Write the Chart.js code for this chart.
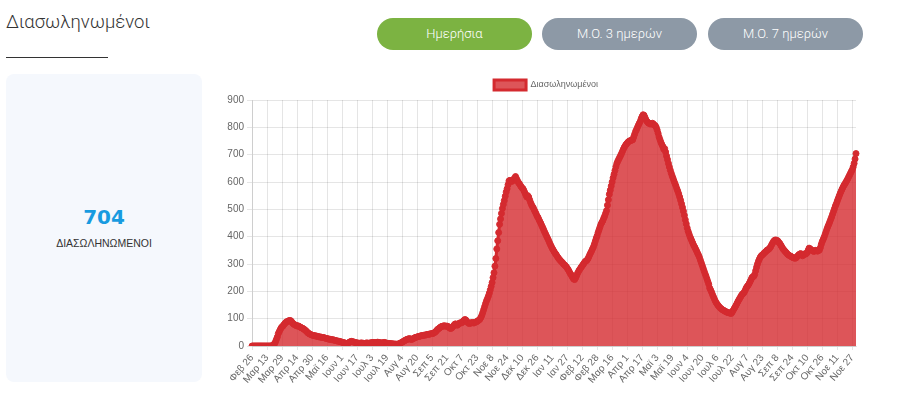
<!DOCTYPE html>
<html lang="el">
<head>
    <meta charset="UTF-8">
    <title>Διασωληνωμένοι</title>
    <script src="https://cdn.jsdelivr.net/npm/chart.js"></script>
    <style>
        body {
            margin: 0;
            width: 900px;
            height: 402px;
            position: relative;
            overflow: hidden;
            background: #fff;
            font-family: Roboto, Arial, sans-serif;
        }
        #title {
            position: absolute;
            left: 6px;
            top: 11px;
            font-size: 18.5px;
            font-weight: 300;
            color: #333;
        }
        #underline {
            position: absolute;
            left: 6px;
            top: 57px;
            width: 102px;
            height: 1px;
            background: #333;
        }
        .btn {
            position: absolute;
            top: 18px;
            width: 155px;
            height: 32px;
            line-height: 32px;
            border-radius: 16px;
            color: #fff;
            font-size: 13px;
            font-weight: 300;
            text-align: center;
            background: #8d99a6;
        }
        .btn.active { background: #7cb342; }
        #card {
            position: absolute;
            left: 6px;
            top: 74px;
            width: 196px;
            height: 308px;
            border-radius: 8px;
            background: #f5f8fd;
            text-align: center;
        }
        #card .num {
            position: absolute;
            left: 0; right: 0;
            top: 131px;
            font-family: "DejaVu Sans", sans-serif;
            font-weight: bold;
            font-size: 20px;
            color: #189be0;
        }
        #card .lbl {
            position: absolute;
            left: 0; right: 0;
            top: 163px;
            font-family: "Liberation Sans", Arial, sans-serif;
            font-size: 10.5px;
            color: #333;
        }
        #chart-box {
            position: absolute;
            left: 212px;
            top: 72px;
            width: 668px;
            height: 328px;
        }
    </style>
</head>
<body>
    <div id="title">Διασωληνωμένοι</div>
    <div id="underline"></div>
    <div class="btn active" style="left:377px">Ημερήσια</div>
    <div class="btn" style="left:542px">Μ.Ο. 3 ημερών</div>
    <div class="btn" style="left:708px">Μ.Ο. 7 ημερών</div>
    <div id="card">
        <div class="num">704</div>
        <div class="lbl">ΔΙΑΣΩΛΗΝΩΜΕΝΟΙ</div>
    </div>
    <div id="chart-box">
        <canvas id="intubChart"></canvas>
    </div>

    <script>
        // daily values from 26 Feb 2020, one row = 16 days (one x tick)
        const intubated = [
            0, 0, 0, 0, 0, 0, 0, 0, 0, 0, 0, 0, 0, 0, 0, 0,
            0, 0, 0, 0, 0, 0, 2, 5, 8, 15, 24, 33, 45, 52, 59, 66,
            70, 73, 78, 82, 86, 89, 90, 92, 93, 93, 90, 85, 81, 79, 77, 75,
            73, 74, 72, 70, 68, 66, 65, 62, 60, 57, 54, 50, 47, 45, 43, 41,
            40, 39, 38, 37, 37, 36, 35, 34, 33, 33, 32, 31, 31, 30, 29, 28,
            27, 26, 25, 25, 24, 23, 23, 22, 21, 20, 19, 18, 18, 17, 16, 15,
            14, 13, 12, 11, 10, 9, 10, 12, 14, 16, 17, 16, 15, 14, 13, 12,
            11, 11, 10, 10, 11, 11, 10, 10, 9, 10, 11, 11, 10, 10, 11, 12,
            12, 13, 13, 12, 12, 13, 14, 13, 12, 12, 11, 11, 12, 13, 12, 11,
            10, 10, 9, 9, 8, 8, 8, 7, 7, 7, 6, 7, 7, 8, 10, 12,
            14, 16, 18, 20, 22, 24, 25, 26, 27, 25, 24, 25, 27, 29, 31, 32,
            33, 34, 35, 36, 37, 38, 38, 39, 40, 40, 41, 42, 43, 43, 44, 45,
            45, 46, 48, 50, 53, 57, 61, 63, 66, 69, 71, 72, 73, 74, 73, 72,
            73, 71, 68, 65, 64, 66, 70, 74, 79, 81, 78, 76, 80, 83, 85, 84,
            86, 90, 94, 97, 95, 90, 86, 83, 82, 84, 85, 86, 84, 85, 87, 88,
            90, 92, 95, 98, 104, 112, 122, 133, 144, 155, 165, 173, 182, 193, 205, 218,
            232, 250, 268, 292, 320, 355, 385, 415, 445, 465, 485, 503, 518, 532, 548, 563,
            575, 590, 604, 606, 603, 602, 605, 610, 614, 620, 612, 605, 598, 594, 588, 583,
            578, 575, 568, 560, 552, 545, 550, 545, 535, 525, 517, 510, 505, 497, 490, 483,
            475, 470, 462, 455, 448, 440, 433, 425, 417, 410, 402, 395, 388, 380, 372, 365,
            358, 352, 346, 340, 336, 330, 325, 320, 316, 312, 308, 305, 300, 297, 294, 290,
            285, 280, 274, 267, 262, 256, 250, 245, 243, 249, 257, 265, 272, 278, 283, 288,
            293, 298, 303, 308, 311, 313, 318, 325, 333, 340, 347, 355, 362, 372, 383, 394,
            403, 415, 425, 435, 445, 452, 458, 467, 475, 485, 495, 515, 535, 555, 570, 585,
            600, 615, 628, 642, 656, 668, 676, 683, 690, 697, 704, 712, 720, 727, 733, 738,
            742, 746, 749, 751, 752, 753, 755, 765, 775, 785, 792, 800, 808, 815, 822, 832,
            840, 846, 844, 836, 828, 822, 818, 815, 813, 812, 813, 815, 812, 808, 806, 800,
            790, 778, 765, 755, 745, 737, 730, 720, 722, 710, 695, 682, 668, 655, 643, 632,
            622, 613, 603, 594, 585, 575, 566, 556, 545, 533, 520, 507, 493, 478, 462, 447,
            432, 420, 410, 400, 392, 384, 376, 368, 362, 355, 348, 340, 333, 325, 315, 305,
            295, 285, 275, 265, 256, 246, 236, 226, 212, 205, 197, 188, 180, 172, 164, 158,
            153, 148, 144, 140, 137, 134, 132, 130, 128, 126, 124, 123, 122, 121, 120, 119,
            124, 130, 136, 142, 148, 155, 162, 168, 174, 180, 186, 190, 193, 198, 205, 213,
            218, 222, 228, 235, 242, 250, 253, 255, 262, 275, 288, 300, 310, 318, 325, 330,
            333, 336, 340, 343, 346, 350, 352, 354, 358, 363, 370, 376, 382, 386, 388, 387,
            386, 383, 378, 374, 368, 362, 356, 352, 348, 344, 340, 336, 333, 331, 329, 327,
            325, 323, 322, 321, 322, 326, 330, 334, 336, 338, 333, 330, 333, 337, 336, 338,
            342, 350, 358, 356, 352, 350, 348, 346, 348, 350, 349, 347, 349, 351, 360, 372,
            382, 390, 398, 408, 418, 428, 437, 445, 454, 463, 472, 482, 492, 502, 512, 520,
            530, 539, 548, 557, 565, 573, 580, 587, 592, 598, 604, 610, 617, 624, 631, 638,
            645, 655, 668, 684, 704
        ];

        const monthNames = ['Ιαν', 'Φεβ', 'Μαρ', 'Απρ', 'Μαϊ', 'Ιουν', 'Ιουλ', 'Αυγ', 'Σεπ', 'Οκτ', 'Νοε', 'Δεκ'];
        const labelStep = 16;

        // one category per day
        const dayLabels = intubated.map((v, i) => {
            const d = new Date(2020, 1, 26 + i);
            return monthNames[d.getMonth()] + ' ' + d.getDate();
        });

        const red = '#d42a2f';
        const ctx = document.getElementById('intubChart').getContext('2d');

        new Chart(ctx, {
            type: 'line',
            data: {
                labels: dayLabels,
                datasets: [{
                    label: 'Διασωληνωμένοι',
                    data: intubated,
                    borderColor: red,
                    backgroundColor: 'rgba(212, 42, 47, 0.8)',
                    borderWidth: 3,
                    pointRadius: 3,
                    pointBorderWidth: 1,
                    pointBackgroundColor: red,
                    pointBorderColor: red,
                    tension: 0,
                    fill: 'origin'
                }]
            },
            options: {
                responsive: true,
                maintainAspectRatio: false,
                animation: false,
                plugins: {
                    legend: {
                        labels: {
                            boxWidth: 32,
                            boxHeight: 10,
                            padding: 8,
                            color: '#666',
                            font: { size: 9 }
                        }
                    },
                    tooltip: { enabled: false }
                },
                scales: {
                    x: {
                        // keep the plot's right edge clear of the legend centring
                        afterFit: s => { s.height = 54; s.paddingRight = 24; },
                        grid: {
                            tickLength: 4,
                            color: c => c.index % labelStep === 0 ? 'rgba(0,0,0,0.1)' : 'transparent'
                        },
                        ticks: {
                            autoSkip: false,
                            maxRotation: 50,
                            minRotation: 50,
                            padding: 2,
                            color: '#666',
                            font: { size: 10 },
                            callback: function (v, i) {
                                return i % labelStep === 0 ? this.getLabelForValue(v) : '';
                            }
                        }
                    },
                    y: {
                        min: 0,
                        max: 900,
                        afterFit: s => { s.width = 40; },
                        grid: { tickLength: 5, color: 'rgba(0,0,0,0.1)' },
                        ticks: {
                            stepSize: 100,
                            padding: 3,
                            color: '#666',
                            font: { size: 10 }
                        }
                    }
                }
            }
        });
    </script>
</body>
</html>
